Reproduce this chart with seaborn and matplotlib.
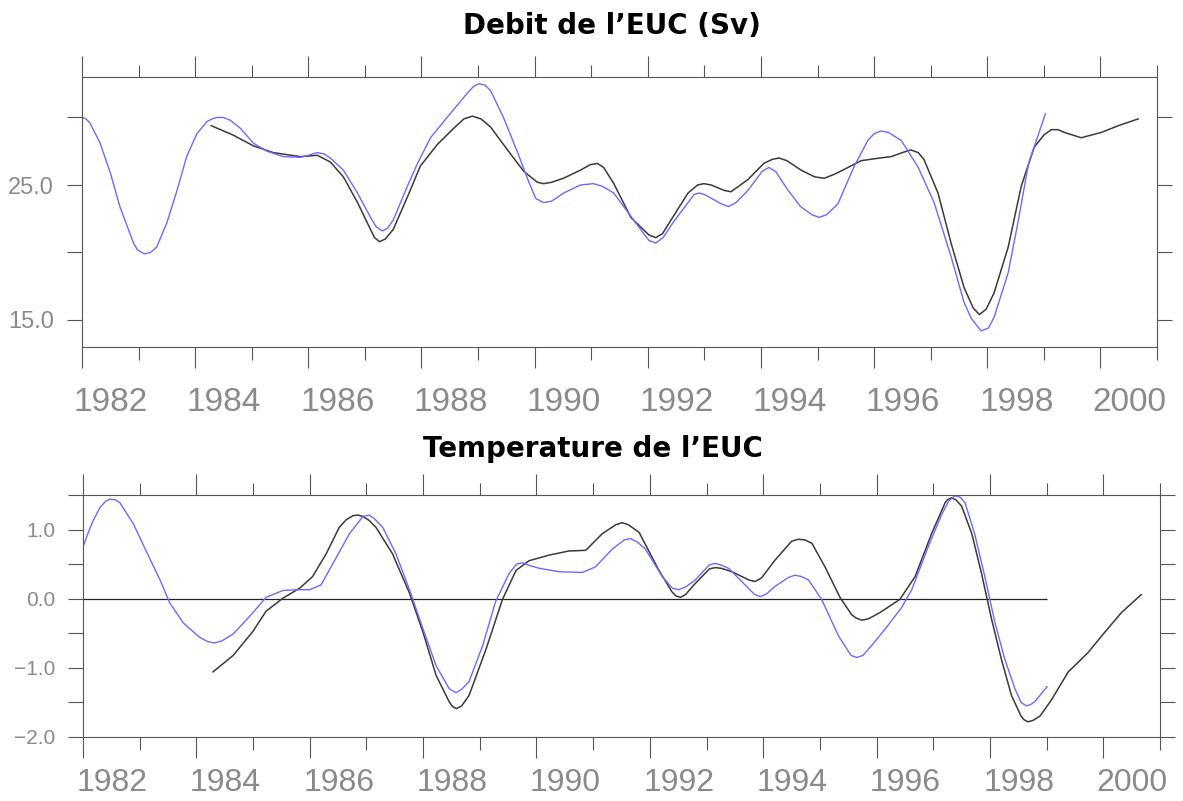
import numpy as np
import pandas as pd
import matplotlib
matplotlib.use("Agg")
import matplotlib.pyplot as plt
import matplotlib.transforms as mtransforms
from matplotlib import font_manager as fm
import seaborn as sns

# ---------------- data ----------------
# Transport of the Equatorial Undercurrent (Sv)
debit_model_years = [1982.00, 1982.07, 1982.14, 1982.32, 1982.50, 1982.67, 1982.91, 1982.98, 1983.10,
                     1983.21, 1983.32, 1983.50, 1983.68, 1983.85, 1984.03, 1984.21, 1984.30, 1984.38,
                     1984.50, 1984.62, 1984.80, 1985.03, 1985.27, 1985.56, 1985.86, 1986.00, 1986.16,
                     1986.28, 1986.39, 1986.62, 1986.87, 1987.10, 1987.20, 1987.31, 1987.40, 1987.50,
                     1987.75, 1987.93, 1988.16, 1988.51, 1988.81, 1988.92, 1989.01, 1989.12, 1989.22,
                     1989.45, 1989.70, 1989.88, 1990.02, 1990.16, 1990.30, 1990.51, 1990.81, 1991.04,
                     1991.20, 1991.40, 1991.75, 1992.02, 1992.14, 1992.27, 1992.46, 1992.82, 1992.91,
                     1993.00, 1993.30, 1993.43, 1993.56, 1993.77, 1994.02, 1994.14, 1994.26, 1994.48,
                     1994.70, 1994.90, 1995.03, 1995.16, 1995.36, 1995.65, 1995.89, 1996.00, 1996.12,
                     1996.25, 1996.48, 1996.78, 1997.06, 1997.36, 1997.59, 1997.72, 1997.89, 1998.02,
                     1998.12, 1998.37, 1998.55, 1998.73, 1999.03]
debit_model = [30.0, 29.9, 29.6, 28.1, 25.9, 23.4, 20.7, 20.2, 19.9,
               20.0, 20.4, 22.2, 24.6, 27.1, 28.8, 29.7, 29.9, 30.0,
               30.0, 29.8, 29.2, 28.1, 27.5, 27.1, 27.05, 27.2, 27.4,
               27.3, 27.0, 26.1, 24.4, 22.6, 21.9, 21.6, 21.8, 22.4,
               24.9, 26.6, 28.5, 30.3, 31.8, 32.3, 32.5, 32.4, 32.0,
               30.0, 27.4, 25.4, 24.0, 23.7, 23.8, 24.4, 25.0, 25.1,
               24.9, 24.4, 22.4, 20.9, 20.7, 21.1, 22.3, 24.3, 24.4,
               24.3, 23.6, 23.4, 23.7, 24.6, 26.0, 26.3, 26.0, 24.6,
               23.4, 22.8, 22.6, 22.8, 23.6, 26.4, 28.3, 28.8, 29.0,
               28.9, 28.3, 26.3, 23.7, 19.7, 16.3, 15.1, 14.2, 14.4,
               15.2, 18.5, 22.4, 26.6, 30.3]

debit_obs_years = [1984.28, 1984.67, 1985.03, 1985.38, 1985.86, 1986.16, 1986.39, 1986.62, 1986.87,
                   1987.10, 1987.17, 1987.26, 1987.36, 1987.50, 1987.75, 1987.98, 1988.28, 1988.57,
                   1988.75, 1988.90, 1989.05, 1989.22, 1989.52, 1989.81, 1990.05, 1990.16, 1990.30,
                   1990.51, 1990.81, 1990.98, 1991.11, 1991.22, 1991.40, 1991.70, 1992.02, 1992.14,
                   1992.26, 1992.41, 1992.71, 1992.88, 1992.99, 1993.12, 1993.35, 1993.47, 1993.77,
                   1994.05, 1994.20, 1994.32, 1994.46, 1994.71, 1994.95, 1995.12, 1995.30, 1995.54,
                   1995.77, 1996.10, 1996.30, 1996.50, 1996.65, 1996.78, 1996.88, 1997.13, 1997.36,
                   1997.59, 1997.75, 1997.86, 1997.98, 1998.12, 1998.37, 1998.60, 1998.83, 1999.00,
                   1999.13, 1999.25, 1999.36, 1999.66, 2000.02, 2000.32, 2000.67]
debit_obs = [29.4, 28.7, 27.9, 27.4, 27.1, 27.2, 26.7, 25.6, 23.7,
             21.7, 21.1, 20.8, 21.0, 21.7, 24.1, 26.4, 28.0, 29.2,
             29.9, 30.1, 29.9, 29.3, 27.6, 26.0, 25.2, 25.1, 25.2,
             25.5, 26.1, 26.5, 26.6, 26.3, 25.1, 22.6, 21.3, 21.1,
             21.4, 22.4, 24.4, 25.0, 25.1, 25.0, 24.6, 24.5, 25.4,
             26.6, 26.9, 27.0, 26.8, 26.1, 25.6, 25.5, 25.8, 26.3,
             26.8, 27.0, 27.1, 27.4, 27.6, 27.4, 26.9, 24.4, 20.7,
             17.4, 15.9, 15.4, 15.8, 17.0, 20.4, 24.9, 27.8, 28.7,
             29.1, 29.1, 28.9, 28.5, 28.9, 29.4, 29.9]

# Temperature anomaly of the Equatorial Undercurrent
temp_model_years = [1982.00, 1982.09, 1982.18, 1982.30, 1982.40, 1982.48, 1982.57, 1982.65, 1982.89,
                    1983.12, 1983.36, 1983.53, 1983.77, 1984.06, 1984.20, 1984.32, 1984.45, 1984.65,
                    1985.00, 1985.23, 1985.53, 1985.82, 1986.00, 1986.20, 1986.41, 1986.70, 1986.94,
                    1987.05, 1987.15, 1987.29, 1987.52, 1987.76, 1988.00, 1988.23, 1988.46, 1988.58,
                    1988.68, 1988.81, 1989.05, 1989.28, 1989.52, 1989.65, 1989.75, 1989.88, 1990.05,
                    1990.40, 1990.81, 1991.04, 1991.34, 1991.55, 1991.66, 1991.78, 1991.92, 1992.22,
                    1992.40, 1992.51, 1992.63, 1992.80, 1993.05, 1993.15, 1993.25, 1993.39, 1993.68,
                    1993.85, 1993.95, 1994.06, 1994.21, 1994.45, 1994.56, 1994.68, 1994.80, 1995.03,
                    1995.33, 1995.55, 1995.65, 1995.76, 1995.91, 1996.15, 1996.44, 1996.62, 1996.91,
                    1997.15, 1997.27, 1997.38, 1997.47, 1997.56, 1997.73, 1997.91, 1998.09, 1998.26,
                    1998.44, 1998.55, 1998.64, 1998.72, 1998.79, 1999.01]
temp_model = [0.75, 0.95, 1.13, 1.32, 1.41, 1.44, 1.43, 1.39, 1.08,
              0.68, 0.27, -0.06, -0.35, -0.56, -0.62, -0.64, -0.61, -0.51,
              -0.20, 0.02, 0.12, 0.13, 0.13, 0.20, 0.51, 0.94, 1.19,
              1.21, 1.15, 1.03, 0.65, 0.13, -0.44, -0.97, -1.30, -1.36,
              -1.31, -1.20, -0.68, -0.04, 0.37, 0.50, 0.52, 0.48, 0.44,
              0.39, 0.38, 0.46, 0.72, 0.85, 0.87, 0.82, 0.72, 0.32,
              0.15, 0.13, 0.17, 0.27, 0.49, 0.51, 0.49, 0.44, 0.20,
              0.06, 0.03, 0.07, 0.18, 0.31, 0.34, 0.32, 0.27, -0.01,
              -0.54, -0.82, -0.85, -0.82, -0.68, -0.44, -0.13, 0.13, 0.75,
              1.22, 1.41, 1.49, 1.47, 1.39, 0.94, 0.32, -0.35, -0.87,
              -1.30, -1.50, -1.55, -1.53, -1.49, -1.27]

temp_obs_years = [1984.29, 1984.65, 1985.00, 1985.23, 1985.53, 1985.82, 1986.05, 1986.29, 1986.52,
                  1986.64, 1986.76, 1986.85, 1986.94, 1987.05, 1987.17, 1987.46, 1987.76, 1988.00,
                  1988.23, 1988.46, 1988.52, 1988.59, 1988.68, 1988.81, 1989.11, 1989.40, 1989.64,
                  1989.87, 1990.22, 1990.57, 1990.87, 1991.16, 1991.40, 1991.51, 1991.62, 1991.81,
                  1992.16, 1992.39, 1992.46, 1992.54, 1992.63, 1992.80, 1993.05, 1993.15, 1993.26,
                  1993.45, 1993.75, 1993.86, 1993.97, 1994.21, 1994.50, 1994.62, 1994.74, 1994.86,
                  1995.09, 1995.36, 1995.56, 1995.64, 1995.74, 1995.86, 1996.06, 1996.41, 1996.68,
                  1996.97, 1997.21, 1997.25, 1997.32, 1997.40, 1997.50, 1997.68, 1997.85, 1998.03,
                  1998.20, 1998.38, 1998.55, 1998.60, 1998.67, 1998.76, 1998.88, 1999.08, 1999.38,
                  1999.73, 2000.02, 2000.32, 2000.67]
temp_obs = [-1.06, -0.82, -0.47, -0.18, 0.01, 0.15, 0.32, 0.65, 1.03,
            1.14, 1.20, 1.21, 1.19, 1.13, 1.03, 0.65, 0.08, -0.49,
            -1.11, -1.49, -1.56, -1.59, -1.55, -1.40, -0.73, -0.01, 0.41,
            0.55, 0.63, 0.69, 0.70, 0.94, 1.07, 1.10, 1.07, 0.96,
            0.41, 0.10, 0.04, 0.02, 0.06, 0.22, 0.43, 0.45, 0.44,
            0.39, 0.27, 0.25, 0.30, 0.56, 0.83, 0.86, 0.85, 0.80,
            0.46, 0.01, -0.23, -0.28, -0.31, -0.29, -0.20, -0.01, 0.32,
            0.94, 1.39, 1.43, 1.46, 1.43, 1.34, 0.94, 0.37, -0.30,
            -0.87, -1.40, -1.70, -1.75, -1.78, -1.76, -1.70, -1.47, -1.06,
            -0.78, -0.49, -0.20, 0.06]

year_labels = [str(y) for y in range(1982, 2001, 2)]
debit_ticks = [15, 20, 25, 30]
debit_tick_labels = ["15.0", "", "25.0", ""]
temp_ticks = [-2.0, -1.5, -1.0, -0.5, 0.0, 0.5, 1.0, 1.5]
temp_tick_labels = ["\u22122.0", "", "\u22121.0", "", "0.0", "", "1.0", ""]

titles = ["Debit de l\u2019EUC (Sv)", "Temperature de l\u2019EUC"]

# ---------------- style ----------------
sns.set_style("ticks")


def has_font(name):
    try:
        fm.findfont(fm.FontProperties(family=name), fallback_to_default=False)
        return True
    except Exception:
        return False


base_font = "Liberation Sans" if has_font("Liberation Sans") else "DejaVu Sans"
plt.rcParams["font.family"] = [base_font, "DejaVu Sans"]

AXIS_COL = "#555555"
LABEL_COL = "#8a8a8a"
BLUE = "#6a6aff"
DARK = "#3a3a3a"

fig = plt.figure(figsize=(11.83, 8.01), dpi=100)
W, H = 1183.0, 801.0
ax1 = fig.add_axes([82 / W, 1 - 347 / H, 1075 / W, 270 / H])
ax2 = fig.add_axes([83 / W, 1 - 737 / H, 1077 / W, 242 / H])

df_debit_model = pd.DataFrame({"annee": debit_model_years, "valeur": debit_model})
df_debit_obs = pd.DataFrame({"annee": debit_obs_years, "valeur": debit_obs})
df_temp_model = pd.DataFrame({"annee": temp_model_years, "valeur": temp_model})
df_temp_obs = pd.DataFrame({"annee": temp_obs_years, "valeur": temp_obs})

# top: transport
sns.lineplot(data=df_debit_obs, x="annee", y="valeur", ax=ax1, color=DARK, lw=1.1, estimator=None)
sns.lineplot(data=df_debit_model, x="annee", y="valeur", ax=ax1, color=BLUE, lw=1.0, estimator=None)

# bottom: temperature, with a zero reference over the model period
ax2.hlines(0.0, temp_model_years[0], temp_model_years[-1], color="#222222", lw=0.9)
sns.lineplot(data=df_temp_obs, x="annee", y="valeur", ax=ax2, color=DARK, lw=1.1, estimator=None)
sns.lineplot(data=df_temp_model, x="annee", y="valeur", ax=ax2, color=BLUE, lw=1.0, estimator=None)

ax1.set_ylim(13, 33)
ax2.set_ylim(-2.0, 1.5)

for ax, yt, ytl, ysize, xsize, xpad in [
    (ax1, debit_ticks, debit_tick_labels, 17, 24, 14),
    (ax2, temp_ticks, temp_tick_labels, 15, 23, 7),
]:
    ax.set_xlim(1982, 2001)
    ax.set_xlabel("")
    ax.set_ylabel("")
    ax.set_xticks(list(range(1982, 2001, 2)))
    ax.set_xticklabels(year_labels, fontsize=xsize, color=LABEL_COL)
    ax.set_xticks(list(range(1983, 2002, 2)), minor=True)
    ax.set_yticks(yt)
    ax.set_yticklabels(ytl, fontsize=ysize, color=LABEL_COL)
    for sp in ax.spines.values():
        sp.set_color(AXIS_COL)
        sp.set_linewidth(0.8)
    ax.tick_params(axis="both", which="both", direction="out", color=AXIS_COL, width=0.8,
                   top=True, bottom=True, left=True, right=True,
                   labeltop=False, labelright=False)
    ax.tick_params(axis="x", which="major", length=15, pad=xpad)
    ax.tick_params(axis="x", which="minor", length=9)
    ax.tick_params(axis="y", which="both", length=11, pad=9)
    # year labels sit in the middle of their year
    shift = mtransforms.ScaledTranslation(0.29, 0, fig.dpi_scale_trans)
    for lab in ax.get_xticklabels():
        lab.set_transform(lab.get_transform() + shift)

ax1.text(0.493, 1.159, titles[0], transform=ax1.transAxes, ha="center", va="baseline",
         fontsize=20, fontweight="bold", family=["DejaVu Sans"], color="black")
ax2.text(0.4735, 1.157, titles[1], transform=ax2.transAxes, ha="center", va="baseline",
         fontsize=20, fontweight="bold", family=["DejaVu Sans"], color="black")

fig.savefig("out.png", dpi=100, facecolor="white")
